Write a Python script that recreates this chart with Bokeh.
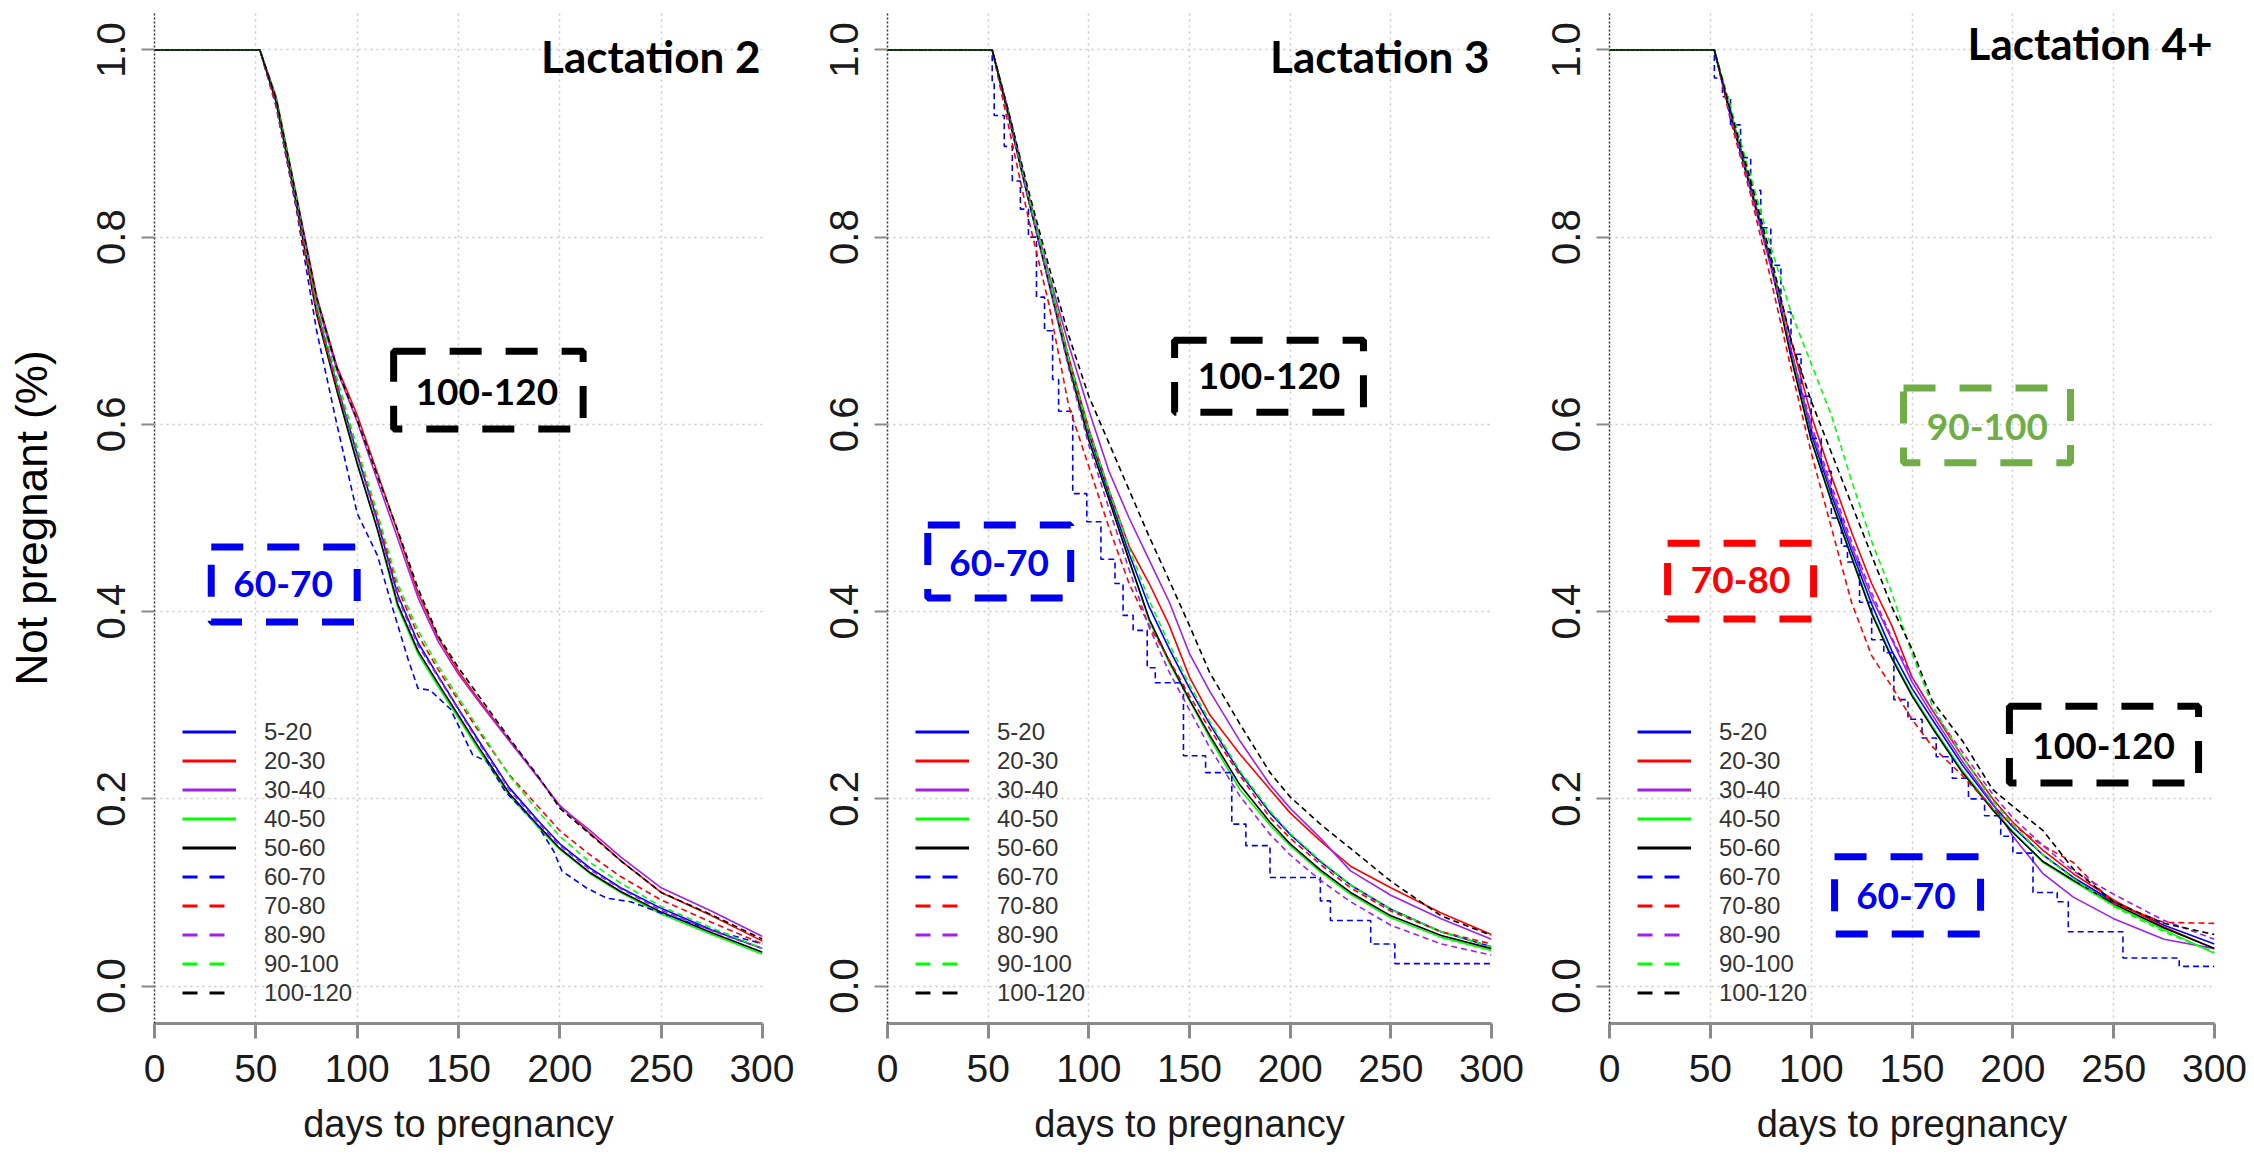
from bokeh.plotting import figure
from bokeh.layouts import row
from bokeh.models import (FixedTicker, PrintfTickFormatter, Legend, LegendItem, Label)
from bokeh.embed import file_html
from bokeh.resources import INLINE

# ---------------- data ----------------
x_ticks = [0, 50, 100, 150, 200, 250, 300]
y_ticks = [0.0, 0.2, 0.4, 0.6, 0.8, 1.0]
groups = ["5-20", "20-30", "30-40", "40-50", "50-60", "60-70", "70-80", "80-90", "90-100", "100-120"]
days = [0, 52, 60, 70, 80, 90, 100, 110, 120, 130, 140, 150, 160, 175, 190, 200, 215, 230, 250, 275, 300]

# Lactation 2
lac2_05_20 = [1, 1, .947, .838, .724, .642, .568, .497, .418, .367, .331, .296, .262, .212, .175, .152, .126, .105, .083, .060, .040]
lac2_20_30 = [1, 1, .950, .845, .737, .662, .610, .548, .485, .420, .372, .336, .306, .263, .221, .193, .163, .134, .100, .075, .048]
lac2_30_40 = [1, 1, .948, .842, .732, .658, .603, .540, .478, .415, .368, .333, .304, .262, .221, .192, .166, .138, .105, .080, .053]
lac2_40_50 = [1, 1, .946, .840, .722, .640, .560, .487, .405, .355, .320, .286, .252, .204, .168, .146, .120, .100, .077, .055, .034]
lac2_50_60 = [1, 1, .944, .835, .718, .636, .558, .488, .408, .358, .323, .289, .255, .206, .170, .147, .121, .101, .079, .057, .036]
lac2_60_70_days = [0, 52, 60, 70, 80, 90, 100, 110, 118, 125, 130, 136, 146, 157, 164, 173, 189, 197, 201, 213, 223, 235, 250, 275, 300]
lac2_60_70 = [1, 1, .940, .830, .700, .600, .505, .460, .400, .350, .318, .316, .296, .247, .240, .208, .172, .144, .123, .105, .094, .090, .078, .060, .045]
lac2_70_80 = [1, 1, .940, .832, .720, .640, .570, .500, .425, .375, .338, .305, .272, .226, .190, .166, .140, .117, .092, .068, .045]
lac2_80_90 = [1, 1, .946, .838, .726, .645, .567, .495, .415, .364, .330, .295, .260, .210, .173, .150, .124, .104, .081, .059, .040]
lac2_90_100 = [1, 1, .950, .842, .730, .650, .575, .505, .430, .380, .342, .308, .275, .225, .185, .160, .132, .110, .085, .062, .040]
lac2_100_120 = [1, 1, .948, .843, .735, .660, .605, .545, .487, .425, .374, .340, .310, .265, .222, .190, .162, .134, .100, .076, .050]

# Lactation 3
lac3_05_20 = [1, 1, .933, .843, .757, .668, .590, .525, .462, .405, .360, .318, .280, .228, .185, .162, .133, .108, .082, .058, .042]
lac3_20_30 = [1, 1, .935, .845, .758, .672, .595, .530, .470, .430, .385, .330, .290, .248, .210, .185, .155, .128, .105, .078, .055]
lac3_30_40 = [1, 1, .935, .845, .762, .685, .615, .550, .500, .455, .410, .355, .315, .262, .215, .190, .158, .123, .097, .072, .050]
lac3_40_50 = [1, 1, .932, .842, .755, .665, .585, .520, .455, .390, .345, .305, .265, .210, .172, .150, .122, .098, .073, .052, .038]
lac3_50_60 = [1, 1, .930, .840, .752, .663, .583, .520, .455, .392, .347, .306, .268, .215, .175, .152, .124, .100, .075, .054, .040]
lac3_60_70_days = [0, 52, 53, 58, 62, 66, 70, 74, 78, 82, 85, 92, 99, 106, 113, 117, 122, 129, 133, 147, 158, 171, 178, 190, 215, 220, 240, 252, 300]
lac3_60_70 = [1, .965, .930, .897, .860, .830, .800, .736, .700, .648, .614, .526, .496, .456, .430, .396, .380, .340, .324, .246, .228, .173, .150, .116, .091, .070, .045, .024, .024]
lac3_70_80 = [1, 1, .920, .820, .730, .620, .555, .490, .430, .385, .348, .310, .275, .225, .180, .158, .130, .105, .080, .058, .045]
lac3_80_90 = [1, 1, .930, .840, .752, .660, .578, .510, .445, .383, .335, .295, .255, .203, .162, .140, .113, .090, .065, .045, .033]
lac3_90_100 = [1, 1, .935, .845, .760, .670, .593, .530, .468, .412, .365, .322, .283, .230, .187, .163, .134, .108, .082, .058, .042]
lac3_100_120 = [1, 1, .935, .850, .770, .695, .630, .580, .530, .480, .433, .385, .335, .280, .228, .202, .173, .147, .112, .075, .054]

# Lactation 4+
lac4_05_20 = [1, 1, .930, .852, .772, .678, .590, .525, .465, .408, .358, .318, .285, .236, .194, .170, .140, .116, .090, .065, .045]
lac4_20_30 = [1, 1, .935, .855, .775, .690, .610, .545, .485, .430, .385, .330, .295, .245, .200, .175, .145, .120, .092, .063, .040]
lac4_30_40 = [1, 1, .932, .850, .768, .680, .595, .530, .470, .415, .370, .325, .290, .240, .195, .160, .120, .095, .072, .050, .040]
lac4_40_50 = [1, 1, .933, .855, .775, .675, .585, .520, .460, .400, .352, .312, .278, .230, .190, .165, .132, .112, .086, .060, .035]
lac4_50_60 = [1, 1, .930, .852, .772, .672, .583, .518, .458, .398, .350, .310, .276, .228, .188, .164, .133, .113, .088, .062, .040]
lac4_60_70_days = [0, 52, 56, 60, 65, 70, 75, 80, 85, 90, 95, 100, 105, 110, 115, 118, 124, 130, 136, 141, 148, 155, 162, 170, 178, 186, 194, 200, 210, 222, 227.5, 254.6, 282.5, 300]
lac4_60_70 = [1, .970, .950, .920, .885, .850, .810, .770, .720, .675, .630, .585, .550, .500, .470, .453, .410, .370, .356, .306, .285, .265, .245, .222, .200, .182, .160, .142, .100, .090, .058, .030, .021, .021]
lac4_70_80 = [1, 1, .925, .845, .755, .660, .570, .490, .410, .353, .320, .285, .256, .225, .190, .172, .150, .132, .088, .068, .067]
lac4_80_90 = [1, 1, .930, .850, .770, .680, .600, .535, .475, .420, .372, .330, .295, .250, .205, .180, .150, .123, .098, .070, .050]
lac4_90_100 = [1, 1, .940, .865, .790, .720, .665, .610, .540, .475, .420, .355, .300, .245, .198, .172, .140, .115, .085, .058, .036]
lac4_100_120 = [1, 1, .935, .860, .780, .690, .625, .570, .515, .460, .405, .360, .305, .262, .210, .192, .166, .125, .090, .067, .055]

# ---------------- styles ----------------
COLORS = ["#0000FF", "#FF0000", "#A020F0", "#00FF00", "#000000"] * 2
DASHES = ["solid"] * 5 + ["6 4"] * 5
LEG_DASHES = ["solid"] * 5 + ["15 12"] * 5
FONT = "Liberation Sans"
BOLD = "Lato"


def make_panel(series, step60, title, title_y, width, bl, br, ylabel, boxes):
    p = figure(width=width, height=1156, x_range=(0, 300), y_range=(-0.04, 1.04),
               output_backend="svg", toolbar_location=None,
               min_border_left=bl, min_border_right=br, min_border_top=12, min_border_bottom=133)
    p.outline_line_color = None
    p.background_fill_color = "white"

    # grid
    p.xgrid.ticker = FixedTicker(ticks=x_ticks)
    p.ygrid.ticker = FixedTicker(ticks=y_ticks)
    p.grid.grid_line_color = "#c8c8c8"
    p.grid.grid_line_dash = "2 4"
    p.grid.grid_line_width = 1.5

    # x axis
    xa = p.xaxis[0]
    xa.ticker = FixedTicker(ticks=x_ticks)
    xa.axis_line_color = "#8a8a8a"
    xa.axis_line_width = 3
    xa.major_tick_line_color = "#8a8a8a"
    xa.major_tick_line_width = 3
    xa.major_tick_out = 15
    xa.major_tick_in = 0
    xa.minor_tick_line_color = None
    xa.major_label_text_font = FONT
    xa.major_label_text_font_size = "39px"
    xa.major_label_text_color = "#1a1a1a"
    xa.major_label_standoff = 16
    xa.axis_label = "days to pregnancy"
    xa.axis_label_text_font = FONT
    xa.axis_label_text_font_size = "38px"
    xa.axis_label_text_font_style = "normal"
    xa.axis_label_text_color = "#1a1a1a"
    xa.axis_label_standoff = 18

    # y axis
    ya = p.yaxis[0]
    ya.ticker = FixedTicker(ticks=y_ticks)
    ya.formatter = PrintfTickFormatter(format="%.1f")
    ya.axis_line_color = "#333333"
    ya.axis_line_dash = "2 2"
    ya.axis_line_width = 1.5
    ya.major_tick_line_color = "#8a8a8a"
    ya.major_tick_line_width = 2
    ya.major_tick_out = 13
    ya.major_tick_in = 0
    ya.minor_tick_line_color = None
    ya.major_label_orientation = "vertical"
    ya.major_label_text_font = FONT
    ya.major_label_text_font_size = "40px"
    ya.major_label_text_color = "#1a1a1a"
    ya.major_label_standoff = 16
    if ylabel:
        ya.axis_label = "Not pregnant (%)"
        ya.axis_label_text_font = FONT
        ya.axis_label_text_font_size = "44px"
        ya.axis_label_text_font_style = "normal"
        ya.axis_label_text_color = "#000000"
        ya.axis_label_standoff = 39

    # curves
    for i, vals in enumerate(series):
        if i == 5:
            d, v, is_step = step60
        else:
            d, v, is_step = days, vals, False
        if is_step:
            p.step(d, v, mode="after", line_color=COLORS[i], line_width=1.6, line_dash=DASHES[i])
        else:
            p.line(d, v, line_color=COLORS[i], line_width=1.6, line_dash=DASHES[i])

    # legend: hidden thicker proxies of the same series
    items = []
    for i, g in enumerate(groups):
        if i == 5:
            d, v = step60[0], step60[1]
        else:
            d, v = days, series[i]
        r = p.line(d, v, line_color=COLORS[i], line_width=3, line_dash=LEG_DASHES[i], visible=False)
        items.append(LegendItem(label=g, renderers=[r]))
    leg = Legend(items=items, location=(28, 16), orientation="vertical",
                 border_line_color=None, background_fill_alpha=0,
                 padding=0, margin=0, spacing=0,
                 glyph_width=54, glyph_height=29, label_height=29, label_standoff=28,
                 label_text_font=FONT, label_text_font_size="24px",
                 label_text_color="#333333")
    p.add_layout(leg)

    # highlight boxes
    for (l, r_, b, t, tx, ty, txt, col) in boxes:
        p.quad(left=[l], right=[r_], bottom=[b], top=[t], fill_color=None,
               line_color=col, line_width=7, line_dash="32 24")
        p.add_layout(Label(x=tx, y=ty, text=txt, text_align="center", text_baseline="middle",
                           text_font=BOLD, text_font_style="bold", text_font_size="37px",
                           text_color=col))

    # panel title
    p.add_layout(Label(x=299, y=title_y, text=title, text_align="right", text_baseline="middle",
                       text_font=BOLD, text_font_style="bold", text_font_size="44px",
                       text_color="#000000"))
    return p


s2 = [lac2_05_20, lac2_20_30, lac2_30_40, lac2_40_50, lac2_50_60, None,
      lac2_70_80, lac2_80_90, lac2_90_100, lac2_100_120]
s3 = [lac3_05_20, lac3_20_30, lac3_30_40, lac3_40_50, lac3_50_60, None,
      lac3_70_80, lac3_80_90, lac3_90_100, lac3_100_120]
s4 = [lac4_05_20, lac4_20_30, lac4_30_40, lac4_40_50, lac4_50_60, None,
      lac4_70_80, lac4_80_90, lac4_90_100, lac4_100_120]

BLACK, BLUE, RED, GREEN = "#000000", "#0000F0", "#FF0000", "#70AD47"

boxes2 = [(118, 211.5, 0.595, 0.678, 164, 0.635, "100-120", BLACK),
          (28, 100, 0.389, 0.469, 63.5, 0.43, "60-70", BLUE)]
boxes3 = [(142.6, 236.4, 0.613, 0.69, 189.5, 0.652, "100-120", BLACK),
          (20, 91, 0.4145, 0.4925, 55.4, 0.452, "60-70", BLUE)]
boxes4 = [(145.8, 228.6, 0.559, 0.639, 187.4, 0.597, "90-100", GREEN),
          (28.8, 101.2, 0.392, 0.473, 65, 0.434, "70-80", RED),
          (198.3, 292.1, 0.217, 0.299, 245, 0.256, "100-120", BLACK),
          (111.6, 184, 0.0556, 0.138, 147, 0.096, "60-70", BLUE)]

p1 = make_panel(s2, (lac2_60_70_days, lac2_60_70, False), "Lactation 2", 0.993, 794, 154, 32, True, boxes2)
p2 = make_panel(s3, (lac3_60_70_days, lac3_60_70, True), "Lactation 3", 0.993, 730, 93, 33, False, boxes3)
p3 = make_panel(s4, (lac4_60_70_days, lac4_60_70, True), "Lactation 4+", 1.007, 726, 85, 36, False, boxes4)

layout = row(p1, p2, p3, spacing=0)
open("out.html", "w").write(file_html(layout, INLINE))
